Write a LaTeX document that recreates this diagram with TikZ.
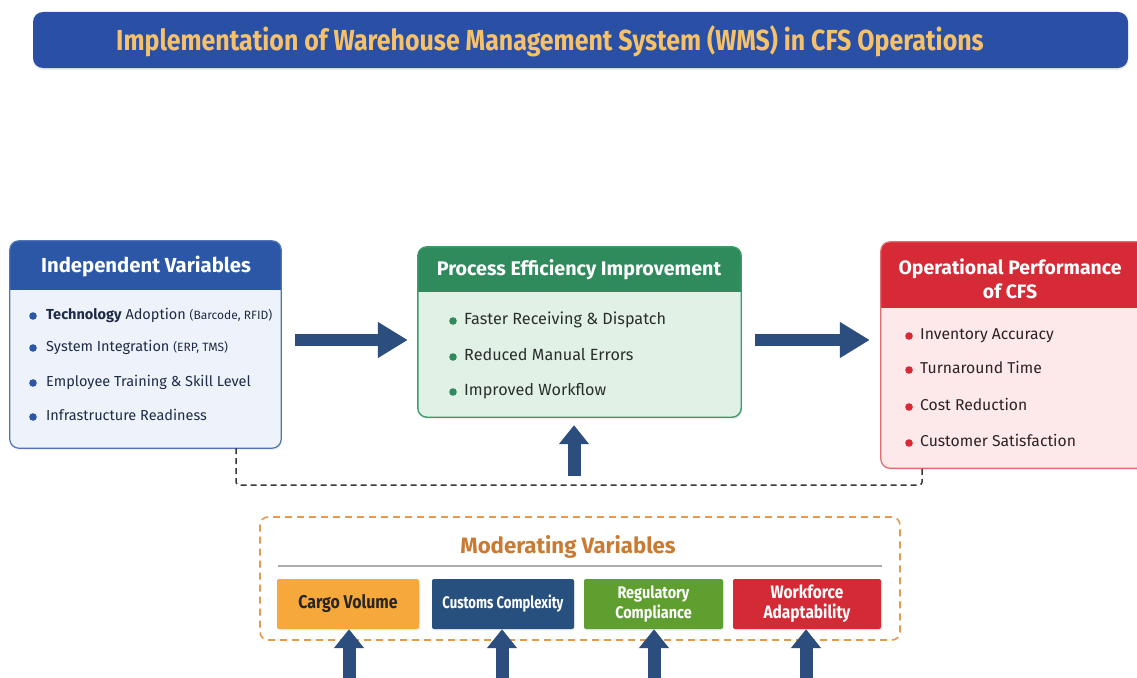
\documentclass[tikz,border=0pt]{standalone}
\usepackage{fontspec}
\setmainfont{Fira Sans}
\newfontfamily\condfont[FakeStretch=0.86]{Fira Sans}
\newfontfamily\narrowfont[FakeStretch=0.78]{Fira Sans}
\usetikzlibrary{arrows.meta,calc,shadows}

\definecolor{titleblue}{HTML}{2A50A6}
\definecolor{titletext}{HTML}{F5C26B}
\definecolor{ivblue}{HTML}{2C56A6}
\definecolor{ivbody}{HTML}{EEF3FB}
\definecolor{ivborder}{HTML}{4F74B8}
\definecolor{ivtext}{HTML}{1E2B45}
\definecolor{pegreen}{HTML}{2F8A5C}
\definecolor{pebody}{HTML}{E1F1E6}
\definecolor{peborder}{HTML}{3E9B68}
\definecolor{petext}{HTML}{2A2E2C}
\definecolor{opred}{HTML}{D62B36}
\definecolor{opbody}{HTML}{FDE9E9}
\definecolor{opborder}{HTML}{E26B6F}
\definecolor{optext}{HTML}{2C2224}
\definecolor{arrowblue}{HTML}{2B4E7E}
\definecolor{modborder}{HTML}{E39A50}
\definecolor{modtitle}{HTML}{C97A33}
\definecolor{cargo}{HTML}{F6A83A}
\definecolor{customs}{HTML}{27507F}
\definecolor{regul}{HTML}{5E9F2F}
\definecolor{workf}{HTML}{D42A35}

\tikzset{
  panel/.style={rectangle, rounded corners=9pt, inner sep=0pt,
    drop shadow={opacity=0.12, shadow xshift=1pt, shadow yshift=-2pt}},
  hdrtext/.style={text=white, font=\bfseries\fontsize{20}{23}\selectfont,
    align=center, inner sep=0pt},
  item/.style={anchor=west, inner sep=0pt, text height=1.5ex, text depth=.35ex,
    font=\fontsize{14.5}{17}\selectfont},
  hfat/.style={draw=arrowblue, line width=12pt,
    -{Triangle[length=30pt,width=34pt]}},
  vfat/.style={draw=arrowblue, line width=13pt,
    -{Triangle[length=19pt,width=29pt]}},
  dashline/.style={draw=black!78, line width=1.5pt, dash pattern=on 6pt off 4pt,
    rounded corners=3pt},
  modbox/.style={rectangle, rounded corners=2pt, inner sep=0pt, minimum height=50pt,
    align=center,
    drop shadow={opacity=0.12, shadow xshift=1pt, shadow yshift=-1.5pt}},
}

\begin{document}
\begin{tikzpicture}[x=1pt,y=-1pt]
\useasboundingbox (0,0) rectangle (1137,677);
\fill[white] (0,0) rectangle (1137,677);

% title banner
\node[fill=titleblue, rounded corners=10pt, minimum width=1095pt, minimum height=56pt,
      inner sep=0pt, drop shadow={opacity=0.15, shadow xshift=0pt, shadow yshift=-2pt}]
      (titlebar) at (580.5,40) {};
\node[text=titletext, inner sep=0pt, font=\condfont\bfseries\fontsize{29}{32}\selectfont]
      (title) at (550,41) {Implementation of Warehouse Management System (WMS) in CFS Operations};

% independent variables panel
\node[panel, fill=ivbody, minimum width=271pt, minimum height=207pt] (indep) at (145.5,344.5) {};
\begin{scope}
  \clip[rounded corners=9pt] (indep.south west) rectangle (indep.north east);
  \fill[ivblue] (indep.north west) rectangle (281,290);
\end{scope}
\draw[ivborder, line width=1.2pt, rounded corners=9pt] (indep.south west) rectangle (indep.north east);
\node[hdrtext, font=\bfseries\fontsize{20.3}{23}\selectfont] (indephead) at (146,267) {Independent Variables};
\foreach \yy in {316,348,383,417} \fill[ivblue] (33,\yy) circle (3.8pt);
\node[item, text=ivtext] (iv1) at (46,316) {\textbf{Technology} Adoption {\fontsize{12}{14}\selectfont (Barcode, RFID)}};
\node[item, text=ivtext] (iv2) at (46,348) {System Integration {\fontsize{12}{14}\selectfont (ERP, TMS)}};
\node[item, text=ivtext] (iv3) at (46,383) {Employee Training \& Skill Level};
\node[item, text=ivtext] (iv4) at (46,417) {Infrastructure Readiness};

% process efficiency panel
\node[panel, fill=pebody, minimum width=323pt, minimum height=170pt] (proc) at (579.5,332) {};
\begin{scope}
  \clip[rounded corners=9pt] (proc.south west) rectangle (proc.north east);
  \fill[pegreen] (proc.north west) rectangle (741,292);
\end{scope}
\draw[peborder, line width=1.4pt, rounded corners=9pt] (proc.south west) rectangle (proc.north east);
\node[hdrtext, font=\bfseries\fontsize{19.7}{23}\selectfont] (prochead) at (579,270) {Process Efficiency Improvement};
\foreach \yy in {321,357,392} \fill[pegreen] (453,\yy) circle (3.8pt);
\node[item, text=petext, font=\fontsize{16.2}{19}\selectfont] (pe1) at (464,321) {Faster Receiving \& Dispatch};
\node[item, text=petext, font=\fontsize{16.2}{19}\selectfont] (pe2) at (464,357) {Reduced Manual Errors};
\node[item, text=petext, font=\fontsize{16.2}{19}\selectfont] (pe3) at (464,392) {Improved Workflow};

% operational performance panel
\node[panel, fill=opbody, minimum width=269pt, minimum height=226pt] (oper) at (1015.5,355) {};
\begin{scope}
  \clip[rounded corners=9pt] (oper.south west) rectangle (oper.north east);
  \fill[opred] (oper.north west) rectangle (1150,308);
\end{scope}
\draw[opborder, line width=1.2pt, rounded corners=9pt] (oper.south west) rectangle (oper.north east);
\node[hdrtext, font=\bfseries\fontsize{19.4}{24.5}\selectfont] (operhead) at (1010,279)
      {Operational Performance\\of CFS};
\foreach \yy in {336,370,407,443} \fill[opred] (909,\yy) circle (3.8pt);
\node[item, text=optext, font=\fontsize{15.7}{19}\selectfont] (op1) at (920,336) {Inventory Accuracy};
\node[item, text=optext, font=\fontsize{15.7}{19}\selectfont] (op2) at (920,370) {Turnaround Time};
\node[item, text=optext, font=\fontsize{15.7}{19}\selectfont] (op3) at (920,407) {Cost Reduction};
\node[item, text=optext, font=\fontsize{15.7}{19}\selectfont] (op4) at (920,443) {Customer Satisfaction};

% main flow arrows
\draw[hfat, shorten <=14pt, shorten >=10pt] (indep.east |- 0,340) -- (proc.west |- 0,340);
\draw[hfat, shorten <=14pt, shorten >=11pt] (proc.east |- 0,340) -- (oper.west |- 0,340);

% moderating influence on process efficiency
\coordinate (upbase) at (574,476);
\draw[vfat, shorten >=8pt] (upbase) -- (upbase |- proc.south);

% dashed link between independent variables and performance
\coordinate (dlx) at (236,0);
\coordinate (drx) at (922,0);
\draw[dashline] (indep.south -| dlx) -- (236,485) -- (922,485) -- (oper.south -| drx);

% moderating variables group
\node[rectangle, rounded corners=8pt, draw=modborder, line width=1.6pt,
      dash pattern=on 7pt off 5pt, minimum width=640pt, minimum height=123pt]
      (modgroup) at (580,578.5) {};
\node[text=modtitle, inner sep=0pt, font=\bfseries\fontsize{22.2}{26}\selectfont]
      (modhead) at (568,547) {Moderating Variables};
\draw[black!32, line width=1.2pt] (278,566) -- (882,566);

\node[modbox, fill=cargo, text=black!85, minimum width=142pt,
      font=\condfont\bfseries\fontsize{18.5}{20}\selectfont] (m1) at (348,604) {Cargo Volume};
\node[modbox, fill=customs, text=white, minimum width=142pt,
      font=\narrowfont\bfseries\fontsize{16.8}{19}\selectfont] (m2) at (503,604) {Customs Complexity};
\node[modbox, fill=regul, text=white, minimum width=139pt,
      font=\condfont\bfseries\fontsize{16.8}{20}\selectfont] (m3) at (653.5,604) {Regulatory\\Compliance};
\node[modbox, fill=workf, text=white, minimum width=148pt,
      font=\condfont\bfseries\fontsize{18}{20}\selectfont] (m4) at (807,604) {Workforce\\Adaptability};

\foreach \m/\xx in {m1/349, m2/502, m3/654, m4/806} {
  \coordinate (b\m) at (\xx,690);
  \draw[vfat] (b\m) -- (b\m |- \m.south);
}
\end{tikzpicture}
\end{document}
